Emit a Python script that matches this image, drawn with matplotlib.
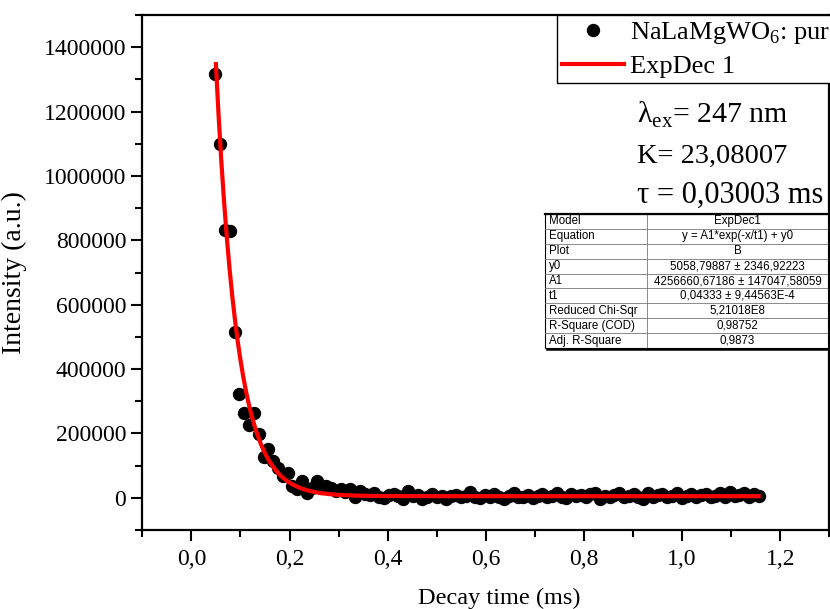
import numpy as np
import matplotlib
matplotlib.use("Agg")
import matplotlib.pyplot as plt
from matplotlib.ticker import MultipleLocator, FuncFormatter
from matplotlib.lines import Line2D

plt.rcParams['font.family'] = ['Liberation Serif', 'DejaVu Serif']
plt.rcParams['mathtext.fontset'] = 'custom'
plt.rcParams['mathtext.rm'] = 'Liberation Serif'

# decay data (time in ms, intensity in a.u.)
decay_time = [
    0.049, 0.059, 0.069, 0.078, 0.088, 0.098, 0.108, 0.118, 0.127, 0.137,
    0.147, 0.157, 0.167, 0.176, 0.186, 0.196, 0.206, 0.216, 0.225, 0.235,
    0.245, 0.255, 0.265, 0.274, 0.284, 0.294, 0.304, 0.314, 0.323, 0.333,
    0.343, 0.353, 0.363, 0.372, 0.382, 0.392, 0.402, 0.412, 0.421, 0.431,
    0.441, 0.451, 0.461, 0.470, 0.480, 0.490, 0.500, 0.510, 0.519, 0.529,
    0.539, 0.549, 0.559, 0.568, 0.578, 0.588, 0.598, 0.608, 0.617, 0.627,
    0.637, 0.647, 0.657, 0.666, 0.676, 0.686, 0.696, 0.706, 0.715, 0.725,
    0.735, 0.745, 0.755, 0.764, 0.774, 0.784, 0.794, 0.804, 0.813, 0.823,
    0.833, 0.843, 0.853, 0.862, 0.872, 0.882, 0.892, 0.902, 0.911, 0.921,
    0.931, 0.941, 0.951, 0.960, 0.970, 0.980, 0.990, 1.000, 1.009, 1.019,
    1.029, 1.039, 1.049, 1.058, 1.068, 1.078, 1.088, 1.098, 1.107, 1.117,
    1.127, 1.137, 1.147, 1.156,
]
intensity = [
    1316000, 1100000, 833000, 830000, 515000, 321000, 264000, 227000, 264000, 199000,
    126000, 153000, 114000, 92000, 67000, 78000, 36000, 26000, 52000, 15000,
    30000, 52000, 31000, 36000, 31000, 20000, 26000, 18000, 26000, 2000,
    20000, 12000, 10000, 14000, 3000, -2000, 8000, 12000, 5000, -3000,
    20000, 6000, 9000, -4000, 4000, 13000, 2000, 7000, -3000, 5000,
    10000, 1000, 6000, 17000, 3000, -2000, 8000, 4000, 12000, 2000,
    -3000, 6000, 15000, 4000, 1000, 9000, -2000, 5000, 11000, 3000,
    7000, 16000, 2000, -1000, 13000, 5000, 8000, 2000, 11000, 15000,
    -4000, 6000, 3000, 9000, 14000, 1000, 7000, 12000, 2000, -3000,
    15000, 4000, 8000, 13000, 2000, 6000, 16000, -2000, 5000, 11000,
    3000, 8000, 13000, 1000, 6000, 15000, 3000, 18000, 5000, 9000,
    14000, 2000, 12000, 6000,
]

# ExpDec1 fit parameters
y0 = 5058.79887
A1 = 4256660.67186
t1 = 0.04333

table_names = ['Model', 'Equation', 'Plot', 'y0', 'A1', 't1',
               'Reduced Chi-Sqr', 'R-Square (COD)', 'Adj. R-Square']
table_values = ['ExpDec1', 'y = A1*exp(-x/t1) + y0', 'B',
                '5058,79887 \u00b1 2346,92223', '4256660,67186 \u00b1 147047,58059',
                '0,04333 \u00b1 9,44563E-4', '5,21018E8', '0,98752', '0,9873']

fig = plt.figure(figsize=(8.3, 6.09), dpi=100)
W, H = 830.0, 609.0
ax = fig.add_axes([142.3 / W, 1 - 530 / H, 687 / W, 515 / H])

ax.plot(decay_time, intensity, 'o', color='black', markersize=8.6, zorder=2,
        label='NaLaMgWO$_{\\mathregular{6}}$: pure')
xf = np.linspace(0.05, decay_time[-1], 400)
ax.plot(xf, A1 * np.exp(-xf / t1) + y0, color='red', lw=3, zorder=3, label='ExpDec 1')

ax.set_xlim(-0.1, 1.3)
ax.set_ylim(-100000, 1500000)
ax.xaxis.set_major_locator(MultipleLocator(0.2))
ax.xaxis.set_minor_locator(MultipleLocator(0.1))
ax.yaxis.set_major_locator(MultipleLocator(200000))
ax.yaxis.set_minor_locator(MultipleLocator(100000))
ax.xaxis.set_major_formatter(FuncFormatter(lambda v, p: ('%.1f' % v).replace('.', ',')))
ax.yaxis.set_major_formatter(FuncFormatter(lambda v, p: '%d' % round(v)))
ax.tick_params(which='major', direction='out', length=8, width=1.5, labelsize=17)
ax.tick_params(which='minor', direction='out', length=5, width=1.5)
ax.tick_params(axis='x', pad=6)
for s in ax.spines.values():
    s.set_linewidth(1.6)

ax.set_xlabel('Decay time (ms)', fontsize=17.5)
ax.xaxis.set_label_coords(0.52, -0.112)
ax.set_ylabel('Intensity (a.u.)', fontsize=20, labelpad=12)

leg = ax.legend(loc='upper left', bbox_to_anchor=(557 / W, 1 - 15 / H),
                bbox_transform=fig.transFigure, borderaxespad=0, fontsize=19,
                fancybox=False, edgecolor='black', framealpha=1,
                handlelength=2.35, handletextpad=0.2, labelspacing=0.32,
                borderpad=0.2)
leg.get_frame().set_linewidth(1.0)

fig.text(637 / W, 1 - 123 / H, '\u03bb$_{\\mathregular{ex}}$= 247 nm', fontsize=21.5, va='baseline')
fig.text(637 / W, 1 - 163 / H, 'K= 23,08007', fontsize=20.5, va='baseline')
fig.text(637 / W, 1 - 203 / H, '\u03c4 = 0,03003 ms', fontsize=22, va='baseline')

# fit result table
tx0, tx1, tmid = 545, 828, 647
ty0, ty1 = 214, 348
rh = (ty1 - ty0) / len(table_names)
fx = lambda px: px / W
fy = lambda py: 1 - py / H
fig.patches.append(plt.Rectangle((fx(tx0), fy(ty1)), fx(tx1) - fx(tx0), fy(ty0) - fy(ty1),
                                 transform=fig.transFigure, facecolor='white',
                                 edgecolor='black', lw=0.8, zorder=5))
for i, (nm, val) in enumerate(zip(table_names, table_values)):
    yc = ty0 + rh * (i + 0.5)
    fig.text(fx(549), fy(yc), nm, family='Liberation Sans', fontsize=8.3, va='center', zorder=7)
    fig.text(fx((tmid + tx1) / 2), fy(yc), val, family='Liberation Sans', fontsize=8.3,
             va='center', ha='center', zorder=7)
    if i > 0:
        yl = ty0 + rh * i
        fig.lines.append(Line2D([fx(tx0), fx(tx1)], [fy(yl), fy(yl)], transform=fig.transFigure,
                                color='#777777', lw=0.6, zorder=6))
fig.lines.append(Line2D([fx(tmid), fx(tmid)], [fy(ty0), fy(ty1)], transform=fig.transFigure,
                        color='#777777', lw=0.6, zorder=6))
fig.lines.append(Line2D([fx(tx0), fx(tx1)], [fy(ty0), fy(ty0)], transform=fig.transFigure,
                        color='black', lw=1.6, zorder=6))
fig.lines.append(Line2D([fx(tx1 + 1), fx(tx1 + 1), fx(tx0 + 2)],
                        [fy(ty0 + 2), fy(ty1 + 1), fy(ty1 + 1)], transform=fig.transFigure,
                        color='black', lw=1.8, zorder=6))

fig.savefig('out.png', dpi=100)
